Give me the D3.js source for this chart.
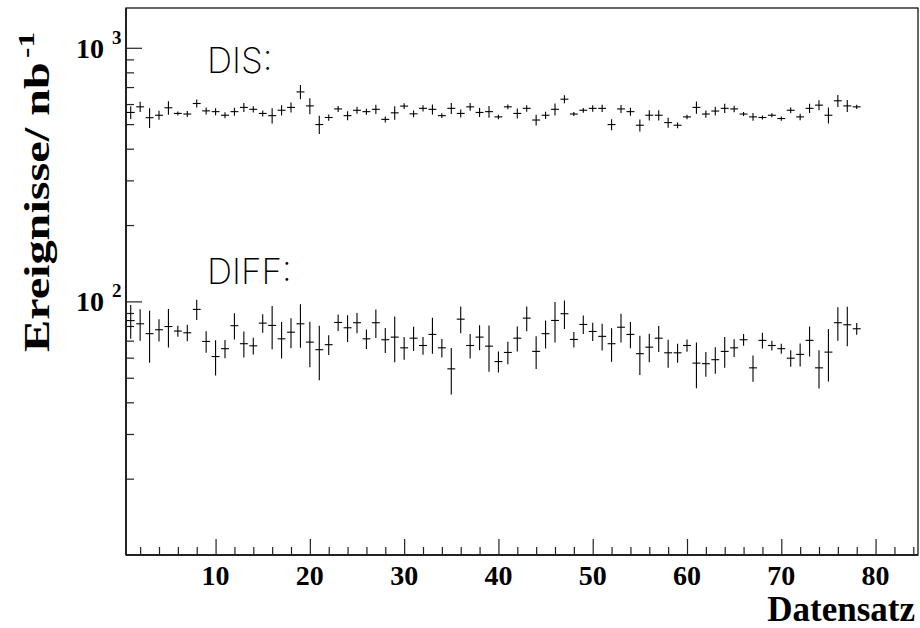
<!DOCTYPE html>
<html><head><meta charset="utf-8">
<script src="https://cdn.jsdelivr.net/npm/d3@7"></script>
<style>html,body{margin:0;padding:0;background:#fff;} svg{display:block;}</style>
</head><body>
<svg id="c" width="920" height="628"></svg>
<script>
const datensatz = [1,2,3,4,5,6,7,8,9,10,11,12,13,14,15,16,17,18,19,20,21,22,23,24,25,26,27,28,29,30,31,32,33,34,35,36,37,38,39,40,41,42,43,44,45,46,47,48,49,50,51,52,53,54,55,56,57,58,59,60,61,62,63,64,65,66,67,68,69,70,71,72,73,74,75,76,77,78];
const disValues = [556,585,530,542,580,551,548,603,564,560,542,560,582,572,551,540,567,582,670,590,498,531,574,540,567,560,572,522,554,589,549,577,572,540,577,551,585,556,560,534,585,551,577,519,542,572,627,548,567,577,577,498,574,560,495,542,542,507,495,534,582,548,563,577,574,548,534,531,542,526,567,534,577,594,542,618,590,585];
const disErrors = [32,27,47,22,35,10,15,22,18,18,15,20,24,16,15,37,26,26,43,43,41,15,16,22,18,15,24,14,34,16,17,16,26,12,29,20,21,23,30,11,13,25,17,25,18,31,23,10,12,17,19,25,21,20,27,25,25,23,13,11,32,18,22,24,17,10,19,10,10,10,15,16,24,27,39,34,32,11];
const diffValues = [84,81.6,74.6,77.3,79.6,76.4,75.2,93,69.5,60.6,65.1,80.2,68.1,66.8,82.1,80.4,71.2,75.6,81.6,69.1,64.5,67.5,82.6,78.7,82.4,71.2,82.4,70.6,72.3,65.6,71.6,67.0,74.1,65.6,54.2,85.1,67.0,72.3,66.6,57.9,62.9,71.6,85.9,63.5,74.6,84.1,89.4,70.8,81.1,76.1,72.8,68.1,79.1,74.1,62.2,66.0,71.6,62.7,62.7,67.0,57.1,56.8,58.9,63.5,65.6,70.6,54.7,70.2,67.0,65.1,59.7,61.8,70.2,54.7,63.1,82.4,80.9,78.0];
const diffErrors = [12.8,11.6,17.3,7.8,13.8,3.8,5.6,8.5,6.8,9.6,5.4,9.5,8.0,5.1,6.8,15.6,11.7,10.3,15.9,14.1,15.6,6.1,6.1,9.5,7.5,6.3,10.6,8.0,14.8,6.7,7.8,5.4,12.0,5.5,11.3,10.3,7.4,8.2,13.8,5.5,6.4,8.1,9.6,9.4,9.4,15.3,11.5,5.0,6.8,6.3,8.8,10.3,10.2,8.8,11.0,8.5,8.4,7.9,5.4,3.7,11.7,6.3,7.0,8.8,5.3,3.7,6.5,5.0,3.0,3.0,4.5,6.4,9.5,9.4,14.8,12.5,14.3,4.1];
const xTickValues = [10,20,30,40,50,60,70,80];
const yMajorTicks = [100,1000];
const yMajorExp = ["2","3"];
const yMinorTicks = [20,30,40,50,60,70,80,90,200,300,400,500,600,700,800,900];
const seriesLabels = ["DIS:", "DIFF:"];
const xTitle = "Datensatz";
const yTitle = "Ereignisse/ nb";
const yTitleExp = "-1";

const L = 126, R = 918, T = 8, B = 555;
const x = d3.scaleLinear().domain([0.5, 84.5]).range([L, R]);
const y = d3.scaleLog().domain([10, 1435]).range([B, T]);
const svg = d3.select("#c");
const serif = "'Liberation Serif','Times New Roman',serif";

svg.append("rect").attr("x", L).attr("y", T).attr("width", R - L).attr("height", B - T)
  .attr("fill", "none").attr("stroke", "#000").attr("stroke-width", 1.2);

const xMinor = d3.range(2, 85, 2).filter(v => v % 10 !== 0);
const gx = svg.append("g").attr("transform", `translate(0,${B})`);
gx.call(d3.axisTop(x).tickValues(xMinor).tickSize(8).tickFormat(""));
const gx2 = svg.append("g").attr("transform", `translate(0,${B})`);
gx2.call(d3.axisTop(x).tickValues(xTickValues).tickSize(16).tickFormat(""));
[gx, gx2].forEach(g => { g.select(".domain").remove(); g.selectAll("line").attr("stroke", "#222").attr("stroke-width", 1.2); });
svg.append("g").selectAll("text").data(xTickValues).join("text")
  .attr("x", d => x(d)).attr("y", 585).attr("text-anchor", "middle")
  .attr("font-family", serif).attr("font-weight", "bold").attr("font-size", 28).text(d => d);

const gy = svg.append("g").attr("transform", `translate(${L},0)`);
gy.call(d3.axisRight(y).tickValues(yMinorTicks).tickSize(8).tickFormat(""));
const gy2 = svg.append("g").attr("transform", `translate(${L},0)`);
gy2.call(d3.axisRight(y).tickValues(yMajorTicks).tickSize(16).tickFormat(""));
[gy, gy2].forEach(g => { g.select(".domain").remove(); g.selectAll("line").attr("stroke", "#222").attr("stroke-width", 1.2); });
svg.append("line").attr("x1", L).attr("x2", L).attr("y1", T).attr("y2", B).attr("stroke", "#222").attr("stroke-width", 2);
svg.append("line").attr("x1", L).attr("x2", R).attr("y1", B).attr("y2", B).attr("stroke", "#222").attr("stroke-width", 2);

const yl = svg.append("g");
yMajorTicks.forEach((v, i) => {
  yl.append("text").attr("x", 104).attr("y", y(v) + 10).attr("text-anchor", "end")
    .attr("font-family", serif).attr("font-weight", "bold").attr("font-size", 28).text("10");
  yl.append("text").attr("x", 112).attr("y", y(v) - 4).attr("text-anchor", "start")
    .attr("font-family", serif).attr("font-weight", "bold").attr("font-size", 19).text(yMajorExp[i]);
});

svg.append("text").attr("x", 915).attr("y", 621).attr("text-anchor", "end")
  .attr("font-family", serif).attr("font-weight", "bold").attr("font-size", 35).text(xTitle);

// y title: stretched along its direction, like the reference
const ytg = svg.append("g").attr("transform", "translate(49,352) rotate(-90)");
const ytInner = ytg.append("g");
const ytText = ytInner.append("text").attr("x", 0).attr("y", 0)
  .attr("font-family", serif).attr("font-weight", "bold").attr("font-size", 35).text(yTitle);
const natural = ytText.node().getComputedTextLength();
const targetLen = 290;
ytInner.attr("transform", `scale(${targetLen / natural},1)`);
ytg.append("text").attr("x", targetLen + 4).attr("y", -15)
  .attr("font-family", serif).attr("font-weight", "bold").attr("font-size", 24)
  .attr("transform", "").text(yTitleExp)
  .each(function () {
    const w = this.getComputedTextLength();
    d3.select(this).attr("transform", `translate(${targetLen + 4},0) scale(${Math.min(1.35, 26 / w)},1) translate(${-(targetLen + 4)},0)`);
  });

const thin = "Inter, Roboto, 'Noto Sans', sans-serif";
svg.append("text").attr("x", 207).attr("y", 73).attr("font-family", thin).attr("font-weight", 200)
  .attr("font-size", 35).text(seriesLabels[0]);
svg.append("text").attr("x", 207).attr("y", 284).attr("font-family", thin).attr("font-weight", 200)
  .attr("font-size", 35).text(seriesLabels[1]);

function drawSeries(vals, errs) {
  const g = svg.append("g").attr("stroke", "#000").attr("stroke-width", 1.1);
  const pts = datensatz.map((d, i) => ({d, v: vals[i], e: errs[i]}));
  g.selectAll("line.h").data(pts).join("line").attr("class", "h")
    .attr("x1", p => x(p.d - 0.42)).attr("x2", p => x(p.d + 0.42))
    .attr("y1", p => y(p.v)).attr("y2", p => y(p.v));
  g.selectAll("line.v").data(pts).join("line").attr("class", "v")
    .attr("x1", p => x(p.d)).attr("x2", p => x(p.d))
    .attr("y1", p => y(p.v + p.e)).attr("y2", p => y(p.v - p.e));
}
drawSeries(disValues, disErrors);
drawSeries(diffValues, diffErrors);
</script>
</body></html>
